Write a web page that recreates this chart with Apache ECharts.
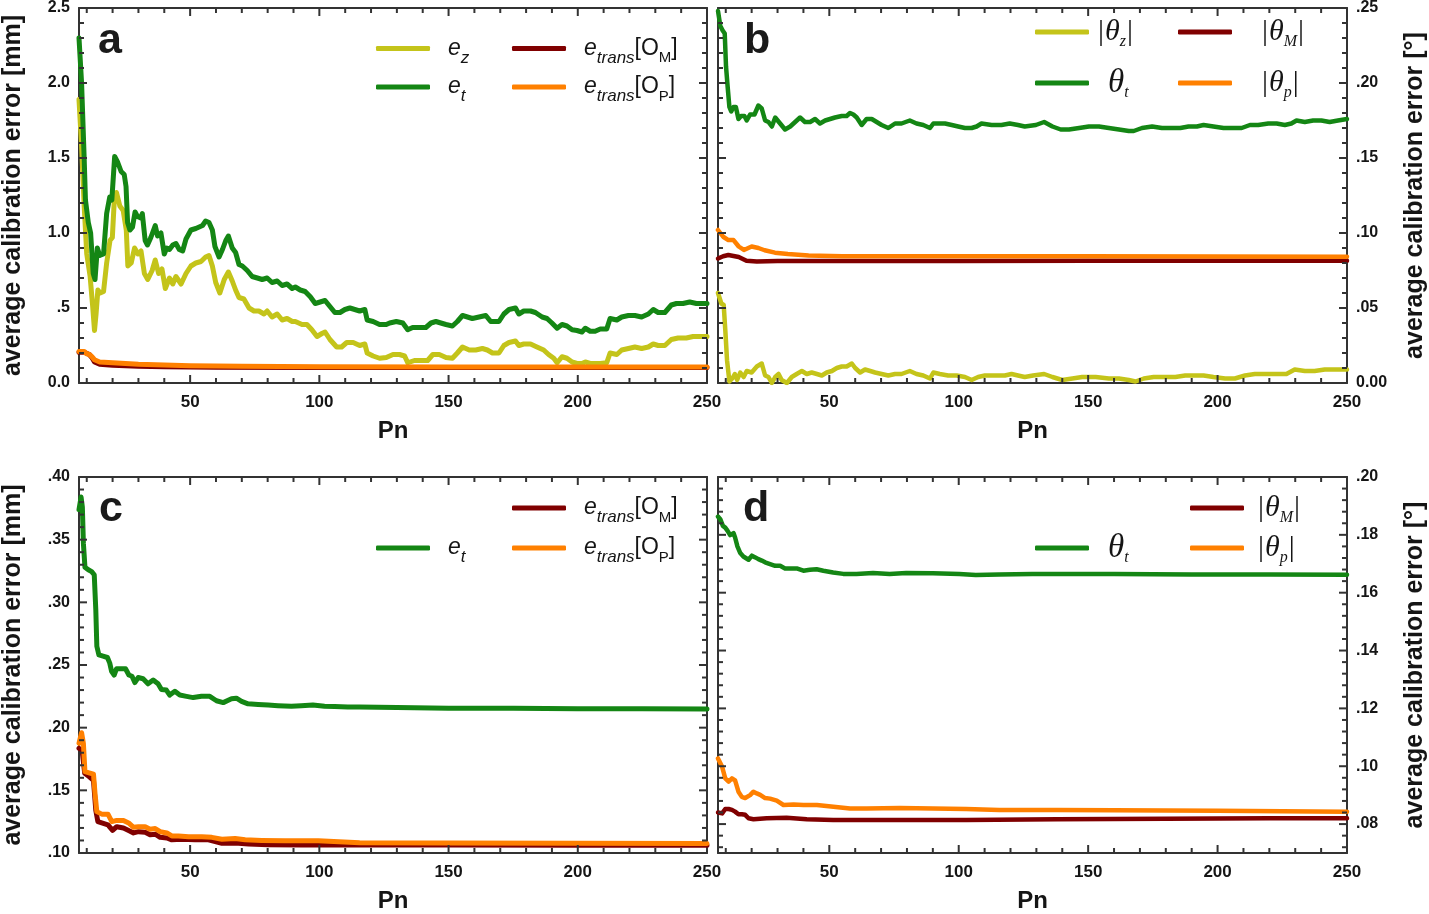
<!DOCTYPE html>
<html>
<head>
<meta charset="utf-8">
<script src="https://cdn.jsdelivr.net/npm/echarts@6/dist/echarts.min.js"></script>
<style>html,body{margin:0;padding:0;background:#fff}#chart{width:1429px;height:914px}</style>
</head>
<body>
<div id="chart"></div>
<script>
// ---------------- DATA ----------------
// x = Pn, y = average calibration error
const a_ez = [[7,1.89],[8,1.58],[9,1.18],[10,0.86],[11.3,0.71],[12.3,0.51],[13,0.35],[13.6,0.46],[14.3,0.62],[15.2,0.60],[16.5,0.61],[17.7,0.80],[19,0.95],[19.9,0.97],[20.6,1.20],[21.5,1.27],[22.8,1.18],[24.1,1.15],[25.3,1.02],[25.9,0.78],[27.2,0.80],[28.5,0.90],[29.8,0.86],[31,0.88],[32.3,0.73],[33.6,0.69],[35.3,0.75],[36.5,0.82],[37.8,0.73],[39.1,0.76],[40.4,0.63],[42,0.70],[43.3,0.66],[44.5,0.71],[46.5,0.66],[48.4,0.73],[50.3,0.78],[52.2,0.80],[54.2,0.81],[56,0.84],[57.3,0.85],[58.6,0.78],[59.9,0.67],[61.5,0.60],[63.2,0.69],[64.8,0.74],[66.3,0.68],[67.6,0.62],[68.9,0.57],[70.8,0.56],[72.8,0.50],[74.7,0.48],[76.6,0.48],[78.6,0.46],[79.8,0.48],[81.7,0.44],[83.7,0.46],[85.6,0.42],[87.5,0.43],[89.5,0.41],[90.7,0.41],[93.3,0.39],[95.2,0.39],[97.1,0.355],[99.1,0.31],[101,0.33],[102.2,0.34],[104.1,0.29],[106.7,0.24],[108.6,0.24],[110.6,0.27],[113.1,0.27],[115.6,0.25],[117.6,0.26],[118.5,0.20],[120.8,0.18],[123.3,0.165],[125.9,0.17],[128.5,0.19],[131,0.19],[133,0.18],[134.2,0.135],[136.8,0.15],[139.4,0.15],[141.9,0.15],[143.9,0.19],[146.4,0.19],[149,0.17],[151.5,0.165],[153.4,0.20],[155.4,0.24],[158,0.22],[160.5,0.22],[163.1,0.23],[165,0.22],[167,0.20],[169.5,0.20],[171.4,0.25],[173.4,0.27],[175.9,0.28],[177.2,0.25],[179.1,0.26],[181.7,0.26],[184.2,0.24],[186.8,0.22],[188.7,0.19],[190.7,0.165],[192,0.135],[193.9,0.175],[195.8,0.165],[197.8,0.14],[199.7,0.13],[201.6,0.13],[202.9,0.14],[204.8,0.13],[206.7,0.13],[208.7,0.13],[211.2,0.135],[212.5,0.20],[215.1,0.19],[217,0.22],[219.6,0.23],[222.1,0.24],[224.7,0.23],[227.3,0.24],[229.2,0.26],[231.1,0.25],[233.7,0.25],[236.2,0.29],[238.8,0.30],[242,0.30],[244.6,0.31],[250,0.31]];
const a_et = [[7,2.30],[8,2.00],[9,1.50],[9.5,1.22],[10.6,1.07],[11.5,1.00],[12.5,0.73],[13.2,0.69],[14.1,0.90],[15,0.85],[16.5,0.86],[17.7,1.13],[18.9,1.24],[19.7,1.22],[20.8,1.51],[22,1.47],[23.3,1.41],[24.5,1.39],[25.2,1.31],[25.8,1.07],[26.7,1.02],[27.7,1.04],[28.7,1.14],[29.6,1.11],[30.9,1.10],[31.5,1.13],[32.6,0.95],[33.5,0.92],[34.8,0.97],[36.5,1.05],[37.4,0.98],[38.7,1.00],[40,0.86],[40.9,0.90],[42,0.89],[43.3,0.92],[44.5,0.93],[45.8,0.89],[47.1,0.88],[48.4,0.96],[50.3,1.02],[52.2,1.03],[53.5,1.04],[54.8,1.05],[56,1.08],[57.3,1.07],[58.6,1.02],[59.6,0.91],[61.2,0.84],[62.5,0.89],[63.8,0.95],[64.8,0.98],[66.3,0.90],[67.6,0.87],[68.9,0.79],[70.2,0.78],[72.1,0.75],[74,0.71],[76,0.70],[77.9,0.69],[79.8,0.70],[81.7,0.67],[83.7,0.68],[85.6,0.65],[87.5,0.66],[89.5,0.63],[90.7,0.64],[92.6,0.62],[94.5,0.61],[96.5,0.575],[98.4,0.53],[100.3,0.54],[102.2,0.55],[104.1,0.51],[106,0.47],[108,0.47],[109.9,0.49],[111.8,0.50],[113.7,0.49],[115.6,0.48],[117.6,0.49],[118.5,0.42],[120.8,0.41],[123.3,0.39],[125.9,0.39],[127.2,0.40],[129.8,0.41],[132.3,0.40],[134.2,0.355],[136.1,0.37],[138.7,0.37],[141.2,0.37],[143.2,0.40],[145.1,0.41],[147,0.40],[149,0.39],[151.5,0.38],[153.4,0.41],[155.4,0.45],[157.3,0.44],[159.2,0.43],[161.8,0.44],[164.4,0.45],[166.3,0.41],[169.5,0.41],[171.4,0.46],[173.4,0.49],[175.9,0.50],[177.2,0.46],[179.1,0.48],[181.7,0.48],[183.6,0.47],[186.2,0.44],[188.1,0.43],[190,0.40],[192,0.365],[193.9,0.39],[195.8,0.38],[197.8,0.355],[199.7,0.35],[201.6,0.34],[202.9,0.365],[204.8,0.345],[206.7,0.345],[208.7,0.36],[211.2,0.36],[212.5,0.43],[215.1,0.42],[217,0.44],[219.6,0.45],[222.1,0.45],[224.7,0.44],[227.3,0.46],[229.2,0.49],[231.1,0.47],[233.7,0.47],[236.2,0.52],[238.2,0.53],[240.7,0.53],[243.3,0.54],[245.9,0.53],[250,0.53]];
const a_om = [[7,0.205],[9,0.205],[11,0.19],[12,0.17],[13,0.14],[15,0.125],[20,0.118],[30,0.112],[40,0.108],[60,0.105],[100,0.104],[150,0.103],[200,0.103],[250,0.103]];
const a_op = [[7,0.21],[9,0.21],[10,0.195],[11,0.19],[12,0.175],[13,0.155],[15,0.14],[20,0.135],[30,0.125],[40,0.12],[50,0.115],[70,0.112],[100,0.108],[150,0.106],[200,0.106],[250,0.106]];

const b_tz = [[7,0.060],[8.3,0.053],[9.2,0.052],[9.9,0.033],[10.5,0.015],[11.4,0.001],[12.5,0.003],[13.5,0.006],[14.4,0.002],[15.6,0.007],[16.9,0.004],[18.1,0.008],[20,0.007],[22,0.011],[23.9,0.013],[25.2,0.005],[26.5,0.004],[27.8,0.000],[29.1,0.004],[30.4,0.006],[31.6,0.002],[33.6,0.000],[35.5,0.004],[37.4,0.006],[39.4,0.008],[41.3,0.006],[43.2,0.007],[45.2,0.006],[47.1,0.005],[49,0.007],[51,0.008],[52.9,0.010],[54.8,0.011],[56.7,0.011],[58.7,0.013],[60,0.010],[61.9,0.007],[63.8,0.009],[65.8,0.008],[67.7,0.007],[70.2,0.006],[72.8,0.005],[75.4,0.006],[77.9,0.006],[81.1,0.008],[83.7,0.006],[86.3,0.005],[88.9,0.003],[90.2,0.007],[92.7,0.006],[95.9,0.005],[99.2,0.005],[102.4,0.004],[105,0.002],[107.5,0.004],[110.1,0.005],[114,0.005],[117.8,0.005],[120.4,0.006],[122.9,0.005],[125.5,0.004],[128.7,0.005],[133,0.006],[136.2,0.004],[140,0.002],[143.9,0.003],[147.7,0.004],[152.9,0.004],[158,0.003],[161.9,0.003],[165.7,0.002],[168.3,0.001],[171.5,0.003],[175.3,0.004],[179.2,0.004],[183.7,0.004],[187.5,0.005],[191.4,0.005],[194.6,0.005],[198.4,0.004],[202.9,0.003],[206.7,0.003],[210.6,0.005],[214.4,0.006],[218.3,0.006],[222.8,0.006],[226.6,0.006],[229.8,0.009],[233.7,0.008],[237.5,0.008],[241.4,0.009],[245.2,0.009],[250,0.009]];
const b_tt = [[7,0.248],[7.9,0.238],[8.8,0.235],[9.6,0.233],[10.1,0.211],[10.7,0.198],[11.4,0.184],[12.1,0.181],[13,0.184],[13.9,0.184],[14.9,0.176],[15.9,0.178],[17.2,0.178],[18.1,0.175],[19.4,0.179],[21.1,0.179],[22.6,0.185],[23.9,0.183],[25.2,0.175],[26.5,0.174],[27.8,0.171],[29.1,0.177],[31,0.173],[32.9,0.169],[34.9,0.171],[36.8,0.174],[38.7,0.177],[40.6,0.174],[42.6,0.174],[44.5,0.176],[46.4,0.173],[48.4,0.175],[50.3,0.176],[52.2,0.177],[54.8,0.178],[56.7,0.178],[58,0.180],[59.3,0.179],[60.6,0.177],[62.5,0.172],[64.4,0.176],[66.4,0.176],[68.3,0.174],[70.2,0.172],[72.8,0.170],[75.4,0.173],[77.9,0.173],[81.1,0.175],[83.7,0.173],[86.3,0.172],[88.9,0.170],[90.2,0.173],[92.1,0.173],[94.7,0.173],[97.3,0.172],[99.8,0.171],[102.4,0.170],[105,0.170],[106.9,0.171],[108.8,0.173],[112.7,0.172],[116.5,0.172],[119.7,0.173],[122.9,0.172],[125.5,0.171],[129.8,0.172],[133,0.174],[136.2,0.171],[139.4,0.169],[142.6,0.169],[146.5,0.170],[150.3,0.171],[154.2,0.171],[158,0.170],[161.9,0.169],[165.7,0.168],[167.6,0.168],[170.8,0.170],[174.7,0.171],[178.5,0.170],[182.4,0.170],[185.6,0.170],[188.8,0.171],[192,0.171],[194.6,0.172],[198.4,0.171],[202.3,0.170],[206.1,0.170],[209.3,0.170],[212.5,0.172],[215.7,0.172],[219.6,0.173],[222.8,0.173],[226,0.172],[228.5,0.173],[230.5,0.175],[233.7,0.174],[236.9,0.175],[240.1,0.175],[243.3,0.174],[246.5,0.175],[250,0.176]];
const b_tm = [[7,0.083],[9,0.0845],[11,0.0853],[13,0.0847],[15,0.084],[18,0.0815],[22,0.081],[30,0.0813],[50,0.0813],[100,0.0813],[150,0.0815],[200,0.0815],[250,0.0815]];
const b_tp = [[7,0.102],[9,0.0975],[11,0.0953],[13,0.0953],[15,0.091],[17,0.0887],[20,0.091],[22.6,0.090],[25,0.0885],[29,0.0869],[34,0.086],[42,0.085],[55,0.0845],[100,0.0845],[150,0.0845],[200,0.0843],[250,0.0842]];

const c_et = [[7,0.374],[7.8,0.384],[8.3,0.376],[8.7,0.347],[9.3,0.328],[10.6,0.326],[11.9,0.3245],[12.9,0.322],[13.5,0.294],[13.9,0.265],[14.7,0.258],[16.3,0.257],[18,0.256],[18.9,0.2515],[19.6,0.245],[20.6,0.242],[21.5,0.247],[23.4,0.247],[25,0.247],[26.3,0.242],[27.5,0.241],[28.6,0.236],[29.9,0.240],[31.8,0.239],[33.7,0.235],[35.7,0.238],[37.6,0.235],[38.9,0.2305],[40.8,0.230],[42.1,0.226],[44.1,0.229],[46,0.226],[48.6,0.225],[51.2,0.224],[54.4,0.225],[57.6,0.225],[60.2,0.2215],[62.8,0.220],[66,0.223],[67.9,0.2235],[69.9,0.221],[72.4,0.219],[76.3,0.2185],[80.2,0.218],[84,0.2175],[89.2,0.217],[93,0.2175],[97.5,0.218],[102,0.217],[105.9,0.2168],[111,0.2165],[115.5,0.2165],[130,0.216],[150,0.2155],[175,0.2155],[200,0.215],[225,0.215],[250,0.2148]];
const c_om = [[7,0.1835],[8.2,0.182],[9.2,0.1636],[10.9,0.161],[12.6,0.158],[13.5,0.134],[14.3,0.125],[15.8,0.124],[18.2,0.1225],[20,0.118],[21.6,0.121],[24.2,0.120],[26.2,0.118],[28.1,0.116],[30,0.117],[32.6,0.1165],[34.5,0.1145],[36.5,0.115],[38.4,0.1125],[41,0.112],[42.9,0.1105],[46.8,0.111],[51.9,0.1105],[57.1,0.1105],[62.3,0.1077],[67.4,0.108],[72.6,0.1072],[80.3,0.1065],[93,0.1064],[115,0.1064],[150,0.1063],[200,0.1062],[250,0.1062]];
const c_op = [[7,0.1875],[8,0.196],[8.7,0.1875],[9.3,0.165],[10.9,0.164],[12.6,0.163],[13.2,0.1476],[13.9,0.133],[15.8,0.131],[18.2,0.131],[19.7,0.125],[21.6,0.126],[24.2,0.126],[26.2,0.124],[28.1,0.1205],[30,0.121],[32.6,0.121],[34.5,0.119],[36.5,0.1195],[38.4,0.117],[41,0.116],[42.9,0.1136],[45.5,0.1136],[49.4,0.113],[54.5,0.113],[58.4,0.1125],[62.3,0.111],[67.4,0.1115],[71.3,0.1105],[77.7,0.110],[86.7,0.1097],[99.6,0.1097],[115.6,0.1082],[150,0.108],[200,0.1078],[250,0.1075]];

const d_tt = [[7,0.1863],[7.9,0.1854],[8.9,0.1831],[9.8,0.1825],[10.7,0.1814],[11.7,0.1799],[13,0.1806],[13.6,0.1791],[14.5,0.176],[15.6,0.1737],[16.8,0.1725],[18.8,0.1714],[20.1,0.1728],[21.4,0.1722],[22.6,0.1716],[23.9,0.1711],[25.2,0.1705],[27.1,0.1699],[29.1,0.1693],[31,0.1693],[32.9,0.1684],[35.5,0.1684],[37.4,0.1684],[40,0.1676],[42.5,0.1679],[45.1,0.1681],[47.7,0.1676],[51.5,0.167],[55.4,0.1665],[60.5,0.1665],[66.9,0.1668],[73.3,0.1665],[79.7,0.1668],[90,0.1667],[100.2,0.1665],[106.6,0.1661],[115.6,0.1663],[128.4,0.1665],[138,0.1665],[160,0.1665],[190,0.1663],[220,0.1663],[250,0.1662]];
const d_tm = [[7,0.084],[8.6,0.0837],[9.8,0.0852],[11.1,0.0852],[12.4,0.0849],[13.6,0.0843],[14.9,0.0834],[16.2,0.0834],[17.5,0.0832],[18.8,0.082],[20.7,0.0817],[25.8,0.082],[33.5,0.0822],[41.3,0.0817],[51.5,0.0814],[77.2,0.0814],[102.9,0.0814],[138,0.0817],[180,0.0818],[220,0.082],[250,0.082]];
const d_tp = [[7,0.1027],[8.6,0.0998],[9.8,0.0958],[11.1,0.0947],[12.4,0.0958],[13.6,0.0951],[14.9,0.0912],[16.2,0.0894],[17.5,0.089],[19.4,0.09],[20.7,0.0912],[22,0.0906],[23.3,0.0901],[25.2,0.089],[27.1,0.0888],[29.7,0.0881],[32.3,0.0866],[36.2,0.0868],[40,0.0866],[45.2,0.0866],[51.6,0.086],[58,0.0854],[64.4,0.0854],[77.2,0.0856],[90,0.0854],[102.9,0.0852],[115.7,0.0849],[138,0.0849],[160,0.0848],[200,0.0846],[250,0.0843]];

// tick labels and tick positions
const xTicks = [50, 100, 150, 200, 250];
const xLabels = ['50', '100', '150', '200', '250'];
const xMinorTicks = [10, 20, 30, 40, 60, 70, 80, 90, 110, 120, 130, 140, 160, 170, 180, 190, 210, 220, 230, 240];
const aYTicks = [0, 0.5, 1, 1.5, 2, 2.5];
const aYLabels = ['0.0', '.5', '1.0', '1.5', '2.0', '2.5'];
const bYTicks = [0, 0.05, 0.10, 0.15, 0.20, 0.25];
const bYLabels = ['0.00', '.05', '.10', '.15', '.20', '.25'];
const cYTicks = [0.10, 0.15, 0.20, 0.25, 0.30, 0.35, 0.40];
const cYLabels = ['.10', '.15', '.20', '.25', '.30', '.35', '.40'];
const dYTicks = [0.08, 0.10, 0.12, 0.14, 0.16, 0.18, 0.20];
const dYLabels = ['.08', '.10', '.12', '.14', '.16', '.18', '.20'];

// ---------------- STYLE / LAYOUT ----------------
const FONT = '"Liberation Sans", Arial, Helvetica, sans-serif';
const SERIF = '"Liberation Serif", "Times New Roman", serif';
const AX = '#333333';
const TXT = '#151515';
const C_Z = '#c4c41a', C_T = '#148614', C_M = '#800000', C_P = '#ff8000';
const PN_MIN = 7, PN_MAX = 250;

function lab(v, ticks, labels) {
  const i = ticks.findIndex(t => Math.abs(t - v) < 1e-7);
  return i >= 0 ? labels[i] : '';
}
const ls = () => ({color: AX, width: 2});

function xAxes(g) {
  const base = {type: 'value', gridIndex: g, min: PN_MIN, max: PN_MAX, splitLine: {show: false}};
  return [
    {...base, position: 'bottom', splitNumber: 5, axisLine: {show: true, onZero: false, lineStyle: ls()},
      axisTick: {show: false},
      axisLabel: {show: true, margin: 11, showMinLabel: true, showMaxLabel: true, hideOverlap: false,
        formatter: v => lab(v, xTicks, xLabels),
        fontFamily: FONT, fontWeight: 'bold', fontSize: 17, color: TXT},
      name: 'Pn', nameLocation: 'middle', nameGap: 36,
      nameTextStyle: {fontFamily: FONT, fontWeight: 'bold', fontSize: 24, color: TXT}},
    {...base, position: 'top', axisLine: {show: true, onZero: false, lineStyle: ls()},
      axisTick: {show: false}, axisLabel: {show: false}}
  ];
}
function yAxes(g, min, max, scale, ticks, labels, side, name) {
  const base = {type: 'value', gridIndex: g, min, max, ...scale, splitLine: {show: false}};
  const other = side === 'left' ? 'right' : 'left';
  return [
    {...base, position: side, axisLine: {show: true, onZero: false, lineStyle: ls()},
      axisTick: {show: false},
      axisLabel: {show: true, margin: 9, showMinLabel: true, showMaxLabel: true, hideOverlap: false,
        formatter: v => lab(v, ticks, labels),
        fontFamily: FONT, fontWeight: 'bold', fontSize: 16, color: TXT},
      name, nameLocation: 'middle', nameGap: side === 'left' ? 53 : 56,
      nameTextStyle: {fontFamily: FONT, fontWeight: 'bold', fontSize: 25, color: TXT}},
    {...base, position: other, axisLine: {show: true, onZero: false, lineStyle: ls()},
      axisTick: {show: false}, axisLabel: {show: false}}
  ];
}
function line(name, data, color, g, width) {
  return {type: 'line', name, data, xAxisIndex: 2 * g, yAxisIndex: 2 * g, color,
    showSymbol: false, symbol: 'none', animation: false, silent: true,
    lineStyle: {color, width, cap: 'round', join: 'round'}};
}

// legend label rich text (all tokens share an explicit line height)
const LE = 36, LT = 40;
const RICH = {
  E: {fontFamily: FONT, fontStyle: 'italic', fontSize: 23, lineHeight: LE, padding: [0, 0, 0, 13], color: TXT},
  s: {fontFamily: FONT, fontStyle: 'italic', fontSize: 17, lineHeight: LE, padding: [19, 0, 0, 0], color: TXT},
  n: {fontFamily: FONT, fontSize: 23, lineHeight: LE, color: TXT},
  S: {fontFamily: FONT, fontSize: 15, lineHeight: LE, padding: [19, 0, 0, 0], color: TXT},
  B1: {fontFamily: SERIF, fontSize: 30, lineHeight: LT, padding: [0, 1, 0, 4], color: TXT},
  B2: {fontFamily: SERIF, fontSize: 30, lineHeight: LT, padding: [0, 1, 0, 25], color: TXT},
  B3: {fontFamily: SERIF, fontSize: 30, lineHeight: LT, padding: [0, 1, 0, 9], color: TXT},
  b: {fontFamily: SERIF, fontSize: 30, lineHeight: LT, padding: [0, 0, 0, 1], color: TXT},
  t: {fontFamily: SERIF, fontStyle: 'italic', fontSize: 30, lineHeight: LT, color: TXT},
  T: {fontFamily: SERIF, fontStyle: 'italic', fontSize: 33, lineHeight: LT, padding: [0, 0, 0, 14], color: TXT},
  ts: {fontFamily: SERIF, fontStyle: 'italic', fontSize: 16, lineHeight: LT, padding: [20, 0, 0, 0], color: TXT}
};
const LEGEND_TEXT = {
  'ez#a': '{E|e}{s|z}', 'et#a': '{E|e}{s|t}',
  'om#a': '{E|e}{s|trans}{n|[O}{S|M}{n|]}', 'op#a': '{E|e}{s|trans}{n|[O}{S|P}{n|]}',
  'tz#b': '{B1||}{t|θ}{ts|z}{b||}', 'tt#b': '{T|θ}{ts|t}',
  'tm#b': '{B2||}{t|θ}{ts|M}{b||}', 'tp#b': '{B2||}{t|θ}{ts|p}{b||}',
  'et#c': '{E|e}{s|t}',
  'om#c': '{E|e}{s|trans}{n|[O}{S|M}{n|]}', 'op#c': '{E|e}{s|trans}{n|[O}{S|P}{n|]}',
  'tt#d': '{T|θ}{ts|t}',
  'tm#d': '{B3||}{t|θ}{ts|M}{b||}', 'tp#d': '{B3||}{t|θ}{ts|p}{b||}'
};
function legend(name, left, cy, lh) {
  return {data: [name], left, top: cy - lh / 2, orient: 'vertical', itemWidth: 54, itemHeight: 5,
    icon: 'roundRect', padding: 0, selectedMode: false,
    formatter: n => LEGEND_TEXT[n], textStyle: {color: TXT, lineHeight: lh, rich: RICH}};
}
function letter(t, x, y) {
  return {type: 'text', x, y, z: 10, style: {text: t, font: 'bold 43px "Liberation Sans", Arial, sans-serif', fill: '#1a1a1a', verticalAlign: 'middle'}};
}
const LETTERS = [letter('a', 98, 41), letter('b', 744, 41), letter('c', 99, 509), letter('d', 743, 509)];

const option = {
  backgroundColor: '#ffffff',
  animation: false,
  grid: [
    {left: 77, top: 7, width: 630, height: 376},
    {left: 718, top: 7, width: 630, height: 376},
    {left: 77, top: 477, width: 630, height: 377},
    {left: 718, top: 477, width: 630, height: 377}
  ],
  xAxis: [...xAxes(0), ...xAxes(1), ...xAxes(2), ...xAxes(3)],
  yAxis: [
    ...yAxes(0, 0, 2.5, {interval: 0.5}, aYTicks, aYLabels, 'left', 'average calibration error [mm]'),
    ...yAxes(1, 0, 0.25, {interval: 0.05}, bYTicks, bYLabels, 'right', 'average calibration error [°]'),
    ...yAxes(2, 0.10, 0.40, {interval: 0.05}, cYTicks, cYLabels, 'left', 'average calibration error [mm]'),
    ...yAxes(3, 0.07, 0.20, {splitNumber: 6}, dYTicks, dYLabels, 'right', 'average calibration error [°]')
  ],
  legend: [
    legend('ez#a', 376, 48.5, LE), legend('et#a', 376, 87, LE),
    legend('om#a', 512, 48.5, LE), legend('op#a', 512, 87, LE),
    legend('tz#b', 1035, 32, LT), legend('tt#b', 1035, 83, LT),
    legend('tm#b', 1178, 32, LT), legend('tp#b', 1178, 83, LT),
    legend('et#c', 376, 548, LE),
    legend('om#c', 512, 508, LE), legend('op#c', 512, 548, LE),
    legend('tt#d', 1035, 548, LT),
    legend('tm#d', 1190, 508, LT), legend('tp#d', 1190, 548, LT)
  ],
  graphic: LETTERS,
  series: [
    line('ez#a', a_ez, C_Z, 0, 5), line('et#a', a_et, C_T, 0, 5),
    line('om#a', a_om, C_M, 0, 5), line('op#a', a_op, C_P, 0, 5),
    line('tz#b', b_tz, C_Z, 1, 4.5), line('tt#b', b_tt, C_T, 1, 4.5),
    line('tm#b', b_tm, C_M, 1, 4.5), line('tp#b', b_tp, C_P, 1, 4.5),
    line('et#c', c_et, C_T, 2, 5), line('om#c', c_om, C_M, 2, 5), line('op#c', c_op, C_P, 2, 5),
    line('tt#d', d_tt, C_T, 3, 4.5), line('tm#d', d_tm, C_M, 3, 4.5), line('tp#d', d_tp, C_P, 3, 4.5)
  ]
};
const chart = echarts.init(document.getElementById('chart'), null, {renderer: 'canvas'});
chart.setOption(option);

// ---- inward tick marks on all four sides, placed through each panel's own axis scales ----
function minorSteps(anchor, step, min, max) {
  const out = [];
  for (let k = -300; k <= 300; k++) {
    const v = +(anchor + k * step).toFixed(6);
    if (v > min + 1e-9 && v < max - 1e-9) out.push(v);
  }
  return out;
}
const PANELS = [
  {g: 0, min: 0, max: 2.5, major: aYTicks, step: 0.1},
  {g: 1, min: 0, max: 0.25, major: bYTicks, step: 0.01},
  {g: 2, min: 0.10, max: 0.40, major: cYTicks, step: 0.01},
  {g: 3, min: 0.07, max: 0.20, major: dYTicks, step: 0.004}
];
const MAJ = 8, MIN = 5;
const tickEls = [];
function seg(x1, y1, x2, y2) {
  tickEls.push({type: 'line', silent: true, z: 5,
    shape: {x1, y1, x2, y2}, style: {stroke: AX, lineWidth: 2}});
}
PANELS.forEach(p => {
  const finder = {xAxisIndex: 2 * p.g, yAxisIndex: 2 * p.g};
  const xs = [...xTicks.filter(v => v < PN_MAX).map(v => [v, MAJ]), ...xMinorTicks.map(v => [v, MIN])];
  xs.forEach(([v, len]) => {
    const b = chart.convertToPixel(finder, [v, p.min]);
    const t = chart.convertToPixel(finder, [v, p.max]);
    seg(b[0], b[1], b[0], b[1] - len);
    seg(t[0], t[1], t[0], t[1] + len);
  });
  const ys = minorSteps(p.major[0], p.step, p.min, p.max).map(v =>
    [v, p.major.some(m => Math.abs(m - v) < 1e-7) ? MAJ : MIN]);
  ys.forEach(([v, len]) => {
    const l = chart.convertToPixel(finder, [PN_MIN, v]);
    const r = chart.convertToPixel(finder, [PN_MAX, v]);
    seg(l[0], l[1], l[0] + len, l[1]);
    seg(r[0], r[1], r[0] - len, r[1]);
  });
});
chart.setOption({graphic: [...LETTERS, ...tickEls]});
</script>
</body>
</html>
